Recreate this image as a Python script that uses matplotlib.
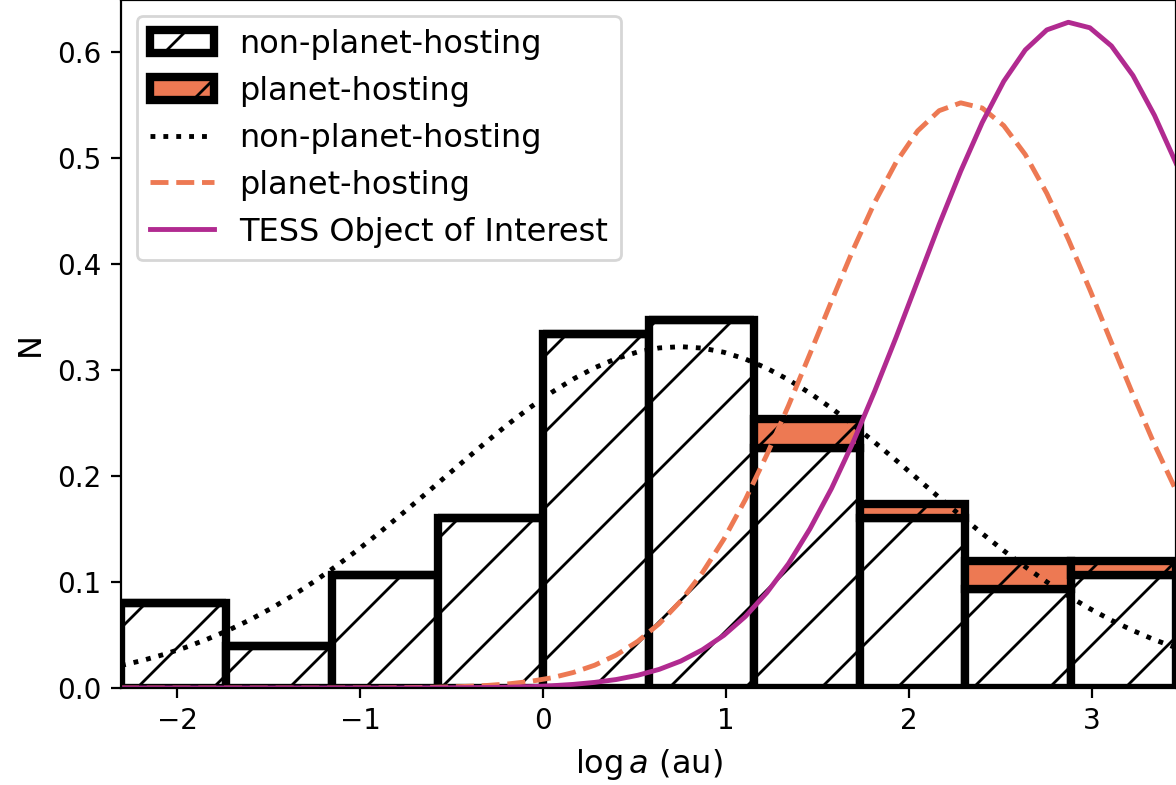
import numpy as np
import matplotlib.pyplot as plt
from matplotlib.collections import LineCollection
from matplotlib.transforms import IdentityTransform

plt.rcParams['font.size'] = 11.5
plt.rcParams['xtick.labelsize'] = 10
plt.rcParams['ytick.labelsize'] = 10

# log a range of the sample and star counts per bin
loga_min, loga_max = -2.306, 3.459
n_bins = 10
counts_non = [6, 3, 8, 12, 25, 26, 17, 12, 7, 8]
counts_planet = [0, 0, 0, 0, 0, 0, 2, 1, 2, 1]

# fitted distributions, sampled on 50 points across the same range
fit_non = [0.0212, 0.0260, 0.0317, 0.0383, 0.0460, 0.0546, 0.0644, 0.0754, 0.0875, 0.1008,
           0.1151, 0.1303, 0.1465, 0.1634, 0.1806, 0.1981, 0.2155, 0.2327, 0.2492, 0.2646,
           0.2788, 0.2914, 0.3021, 0.3107, 0.3170, 0.3208, 0.3220, 0.3206, 0.3167, 0.3103,
           0.3016, 0.2908, 0.2781, 0.2639, 0.2484, 0.2318, 0.2148, 0.1973, 0.1797, 0.1625,
           0.1457, 0.1295, 0.1143, 0.1000, 0.0868, 0.0748, 0.0639, 0.0542, 0.0455, 0.0380]
fit_planet = [0, 0, 0, 0, 0, 0, 0, 0, 0, 0,
              0.0000, 0.0001, 0.0002, 0.0003, 0.0005, 0.0009, 0.0015, 0.0024, 0.0039, 0.0062,
              0.0096, 0.0146, 0.0215, 0.0311, 0.0440, 0.0607, 0.0821, 0.1087, 0.1404, 0.1778,
              0.2202, 0.2663, 0.3153, 0.3649, 0.4133, 0.4579, 0.4959, 0.5255, 0.5446, 0.5520,
              0.5471, 0.5305, 0.5032, 0.4666, 0.4232, 0.3757, 0.3259, 0.2769, 0.2297, 0.1864]
fit_toi = [0, 0, 0, 0, 0, 0, 0, 0, 0, 0,
           0, 0, 0, 0, 0.0001, 0.0002, 0.0003, 0.0005, 0.0008, 0.0013,
           0.0021, 0.0034, 0.0053, 0.0080, 0.0120, 0.0176, 0.0254, 0.0360, 0.0497, 0.0675,
           0.0900, 0.1172, 0.1502, 0.1882, 0.2317, 0.2798, 0.3308, 0.3840, 0.4372, 0.4875,
           0.5334, 0.5723, 0.6019, 0.6208, 0.6280, 0.6228, 0.6057, 0.5778, 0.5402, 0.4952]

orange = '#ed7953'
purple = '#b12a90'

edges = np.linspace(loga_min, loga_max, n_bins + 1)
centers = 0.5 * (edges[:-1] + edges[1:])
grid = np.linspace(loga_min, loga_max, len(fit_non))


def hatch_lines(spacing=76, offset=40, zorder=1.5):
    # sparse "/" hatching laid out in pixel space
    d = offset + spacing * np.arange(-20, 30)
    segs = [[(-500, -500 - dd), (2500, 2500 - dd)] for dd in d]
    return LineCollection(segs, colors='black', linewidths=1.0,
                          transform=IdentityTransform(), zorder=zorder)


fig = plt.figure(figsize=(5.88, 3.925), dpi=200)
ax = fig.add_axes([121 / 1176, 97 / 785, 1 - 121 / 1176, 1 - 97 / 785])

n, bins, patches = ax.hist([centers, centers], bins=edges,
                           weights=[counts_non, counts_planet],
                           stacked=True, density=True,
                           color=['white', orange], edgecolor='black', linewidth=3)

for container in patches:
    for p in container:
        lc = hatch_lines()
        ax.add_collection(lc, autolim=False)
        lc.set_clip_path(p)

l1, = ax.plot(grid, fit_non, ':', color='black', lw=1.75, zorder=2)
l2, = ax.plot(grid, fit_planet, '--', color=orange, lw=1.75, zorder=2)
l3, = ax.plot(grid, fit_toi, '-', color=purple, lw=1.75, zorder=2)

ax.set_xlim(loga_min, loga_max)
ax.set_ylim(0, 0.649)
ax.set_xlabel(r'$\log a$ (au)')
ax.set_ylabel('N')

leg = ax.legend([patches[0], patches[1], l1, l2, l3],
                ['non-planet-hosting', 'planet-hosting', 'non-planet-hosting',
                 'planet-hosting', 'TESS Object of Interest'],
                loc='upper left')

for p in leg.get_patches():
    lc = hatch_lines(zorder=6)
    fig.add_artist(lc)
    lc.set_clip_path(p)

fig.savefig('out.png', dpi=200)
